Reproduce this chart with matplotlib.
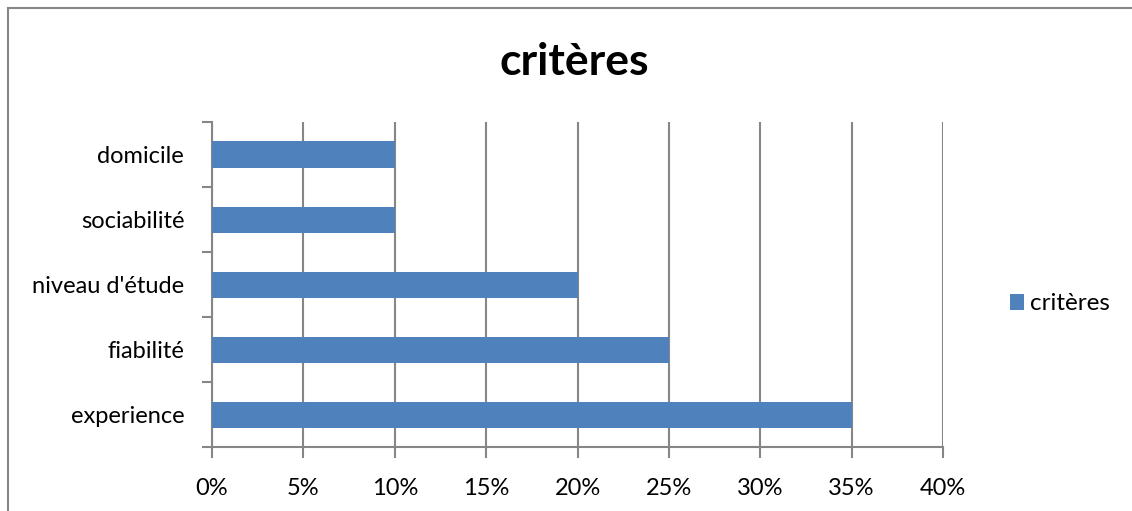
import matplotlib
matplotlib.use('Agg')
import matplotlib.pyplot as plt
from matplotlib.ticker import FixedLocator, PercentFormatter
from matplotlib.lines import Line2D

# data
categories = ["experience", "fiabilité", "niveau d'étude", "sociabilité", "domicile"]
values = [0.35, 0.25, 0.20, 0.10, 0.10]
x_ticks = [0, 0.05, 0.10, 0.15, 0.20, 0.25, 0.30, 0.35, 0.40]

plt.rcParams['font.family'] = ['Lato', 'DejaVu Sans']
grey = "#868686"
bar_color = "#4F81BD"

fig = plt.figure(figsize=(11.32, 5.11), dpi=100, facecolor="white")
ax = fig.add_axes([212 / 1132, 1 - 447 / 511, (943 - 212) / 1132, (447 - 122) / 511])

ypos = list(range(len(categories)))
ax.barh(ypos, values, height=0.4, color=bar_color, label="critères", zorder=3)

ax.set_xlim(0, 0.40)
ax.set_ylim(-0.5, len(categories) - 0.5)
ax.set_xticks(x_ticks)
ax.xaxis.set_major_formatter(PercentFormatter(1.0, decimals=0))
ax.grid(axis='x', color=grey, linewidth=1.5, zorder=0)

ax.set_yticks(ypos)
ax.set_yticklabels(categories)
ax.yaxis.set_minor_locator(FixedLocator([i - 0.5 for i in range(len(categories) + 1)]))
ax.tick_params(axis='y', which='major', length=0, pad=20, labelsize=17)
ax.tick_params(axis='y', which='minor', length=7, width=1.5, color=grey)
ax.tick_params(axis='x', length=8, width=1.5, color=grey, labelsize=17, pad=14)

for side in ['top', 'right']:
    ax.spines[side].set_visible(False)
for side in ['left', 'bottom']:
    ax.spines[side].set_color(grey)
    ax.spines[side].set_linewidth(1.5)

fig.text(574 / 1132, 1 - 62 / 511, "critères", ha='center', va='center',
         fontsize=32, fontweight='bold')

fig.legend(loc='center left', bbox_to_anchor=(1000 / 1132, 1 - 304 / 511),
           frameon=False, fontsize=17.5, handlelength=0.6, handleheight=0.6,
           handletextpad=0.25, borderaxespad=0)

# outer chart border
fig.add_artist(Line2D([8 / 1132, 8 / 1132], [0, 1 - 8.5 / 511], color=grey,
                      linewidth=1.5, transform=fig.transFigure))
fig.add_artist(Line2D([8 / 1132, 1], [1 - 8.5 / 511, 1 - 8.5 / 511], color=grey,
                      linewidth=1.5, transform=fig.transFigure))

fig.savefig("out.png", dpi=100, facecolor="white")
